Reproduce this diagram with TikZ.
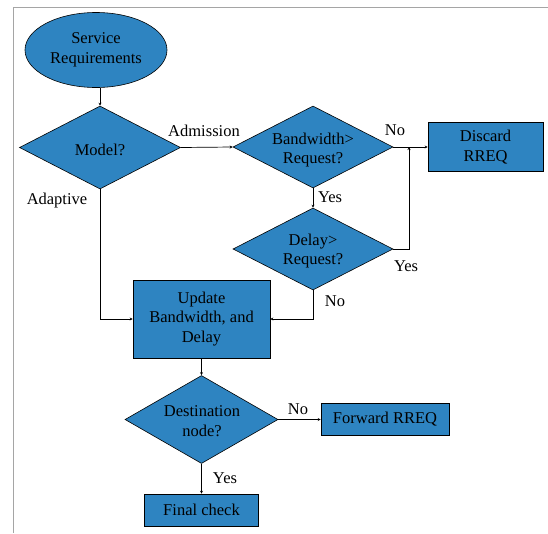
\documentclass[tikz,border=0pt]{standalone}
\usepackage{fontspec}
\setmainfont{Liberation Serif}
\usetikzlibrary{shapes.geometric,arrows.meta}
\definecolor{boxblue}{RGB}{46,132,193}
\definecolor{framegray}{RGB}{165,165,165}
\tikzset{
  every node/.style={font=\fontsize{16.5}{19.5}\selectfont},
  blockbox/.style={draw=black,line width=0.6pt,fill=boxblue,rectangle,inner sep=0pt,align=center},
  decision/.style={draw=black,line width=0.6pt,fill=boxblue,diamond,inner sep=0pt,shape aspect=2},
  dtext/.style={align=center,inner sep=0pt},
  conn/.style={line width=0.7pt,-{Stealth[length=3pt,width=3pt]}},
  lbl/.style={inner sep=0pt}
}
\begin{document}
\begin{tikzpicture}[x=1pt,y=-1pt]
\useasboundingbox (0,0) rectangle (548,533);
% frame
\draw[framegray,line width=1.4pt] (13.5,533) -- (13.5,7.5) -- (548,7.5);
% nodes
\node[draw=black,line width=0.6pt,fill=boxblue,ellipse,minimum width=142pt,minimum height=75pt,inner sep=0pt,align=center] (srv) at (96,50) {Service\\Requirements};
\node[decision,minimum width=161pt,minimum height=83pt] (model) at (100,147.5) {};
\node[dtext] (modelt) at (100,150) {Model?};
\node[decision,minimum width=160pt,minimum height=82pt] (bw) at (313,147) {};
\node[dtext] (bwt) at (313,150) {Bandwidth>\\Request?};
\node[blockbox,minimum width=115pt,minimum height=49pt] (discard) at (485.5,147) {Discard\\RREQ};
\node[decision,minimum width=160pt,minimum height=82pt] (delay) at (313,249) {};
\node[dtext] (delayt) at (313,251) {Delay>\\Request?};
\node[blockbox,minimum width=137pt,minimum height=78pt] (upd) at (201.5,319) {Update\\Bandwidth, and\\Delay};
\node[decision,minimum width=153pt,minimum height=88pt] (dest) at (201.5,419.5) {};
\node[dtext] (destt) at (202,421) {Destination\\node?};
\node[blockbox,minimum width=128pt,minimum height=32pt] (fwd) at (385,419.5) {Forward RREQ};
\node[blockbox,minimum width=114pt,minimum height=32pt] (final) at (201.5,510) {Final check};
\coordinate (join) at (409,147);
% connectors
\draw[conn] (model.north |- srv.south) -- (model.north);
\draw[conn] (model.east) -- (bw.west);
\draw[conn] (bw.east) -- (discard.west);
\draw[conn] (bw.south) -- (delay.north);
\draw[conn] (delay.east) -| (join);
\draw[conn] (delay.south) |- (upd.east);
\draw[conn] (model.south) |- (upd.west);
\draw[conn] (upd.south) -- (dest.north);
\draw[conn] (dest.east) -- (fwd.west);
\draw[conn] (dest.south) -- (final.north);
% labels
\node[lbl] (l1) at (204,131) {Admission};
\node[lbl] (l2) at (395,130) {No};
\node[lbl] (l3) at (330,197) {Yes};
\node[lbl] (l4) at (406,266) {Yes};
\node[lbl] (l5) at (335,301) {No};
\node[lbl] (l6) at (57,201) {Adaptive};
\node[lbl] (l7) at (298,409) {No};
\node[lbl] (l8) at (225,478) {Yes};
\end{tikzpicture}
\end{document}
